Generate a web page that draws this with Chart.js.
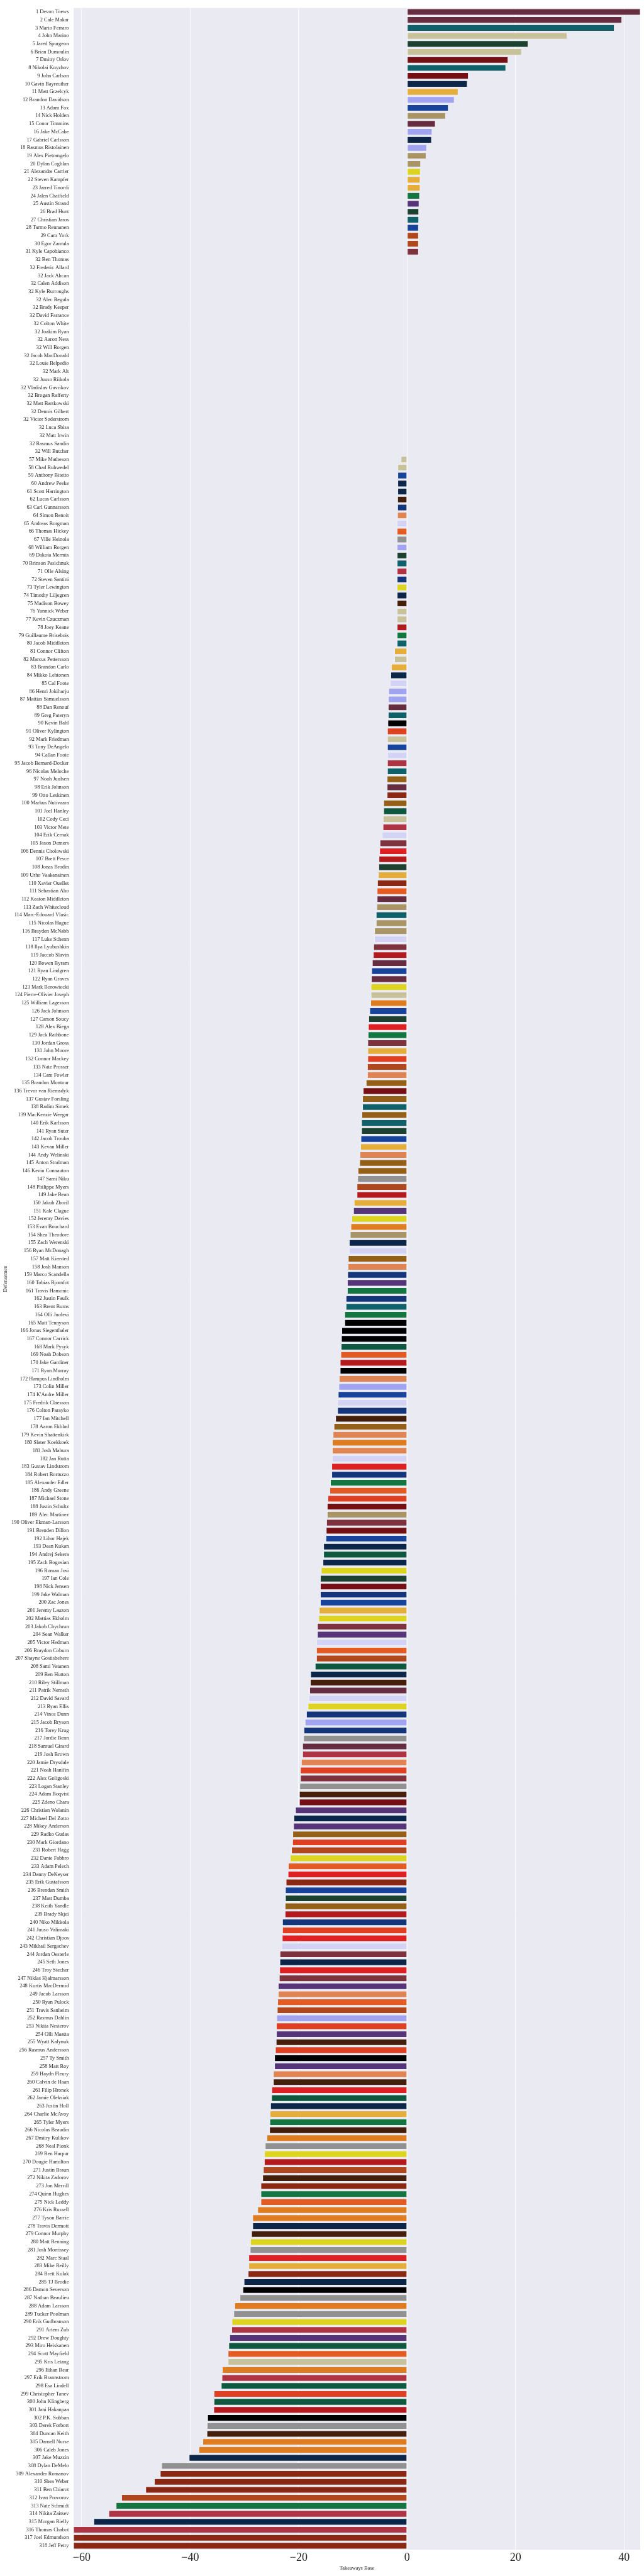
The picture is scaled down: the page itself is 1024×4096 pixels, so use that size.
<!DOCTYPE html>
<html>
<head>
<meta charset="utf-8">
<script src="https://cdn.jsdelivr.net/npm/chart.js@4.4.1/dist/chart.umd.min.js"></script>
<style>
  html, body { margin: 0; padding: 0; background: #ffffff; }
  #wrap { position: relative; width: 1024px; height: 4096px; }
</style>
</head>
<body>
<div id="wrap"><canvas id="chart"></canvas></div>
<script>
// team colours seen in the picture
const palette = {
  wine: '#662c3f', teal: '#0f6068', tan: '#c8c29b', forest: '#1c4131', darkRed: '#741013',
  navy: '#0b2649', gold: '#e5ae3a', lavender: '#a0a3f0', royal: '#17449a', khaki: '#a99465',
  yellow: '#dcd41f', green: '#137540', purple: '#563478', rust: '#b0461b', rose: '#7e323e',
  cobalt: '#14357a', salmon: '#e08454', paleLav: '#d3d3f5', orange: '#e35a22', gray: '#919191',
  roseRed: '#af3443', brown: '#44200c', red: '#b21a1e', redOrange: '#e04022', bronze: '#946017',
  rustBrown: '#8a2814', pine: '#0e5840', brightRed: '#df2022', amber: '#de7c1f', black: '#000000'
};

const players = [
  '1 Devon Toews', '2 Cale Makar', '3 Mario Ferraro', '4 John Marino', '5 Jared Spurgeon',
  '6 Brian Dumoulin', '7 Dmitry Orlov', '8 Nikolai Knyzhov', '9 John Carlson', '10 Gavin Bayreuther',
  '11 Matt Grzelcyk', '12 Brandon Davidson', '13 Adam Fox', '14 Nick Holden', '15 Conor Timmins',
  '16 Jake McCabe', '17 Gabriel Carlsson', '18 Rasmus Ristolainen', '19 Alex Pietrangelo', '20 Dylan Coghlan',
  '21 Alexandre Carrier', '22 Steven Kampfer', '23 Jarred Tinordi', '24 Jalen Chatfield', '25 Austin Strand',
  '26 Brad Hunt', '27 Christian Jaros', '28 Tarmo Reunanen', '29 Cam York', '30 Egor Zamula',
  '31 Kyle Capobianco', '32 Ben Thomas', '32 Frederic Allard', '32 Jack Ahcan', '32 Calen Addison',
  '32 Kyle Burroughs', '32 Alec Regula', '32 Brady Keeper', '32 David Farrance', '32 Colton White',
  '32 Joakim Ryan', '32 Aaron Ness', '32 Will Borgen', '32 Jacob MacDonald', '32 Louie Belpedio',
  '32 Mark Alt', '32 Juuso Riikola', '32 Vladislav Gavrikov', '32 Brogan Rafferty', '32 Matt Bartkowski',
  '32 Dennis Gilbert', '32 Victor Soderstrom', '32 Luca Sbisa', '32 Matt Irwin', '32 Rasmus Sandin',
  '32 Will Butcher', '57 Mike Matheson', '58 Chad Ruhwedel', '59 Anthony Bitetto', '60 Andrew Peeke',
  '61 Scott Harrington', '62 Lucas Carlsson', '63 Carl Gunnarsson', '64 Simon Benoit', '65 Andreas Borgman',
  '66 Thomas Hickey', '67 Ville Heinola', '68 William Borgen', '69 Dakota Mermis', '70 Brinson Pasichnuk',
  '71 Olle Alsing', '72 Steven Santini', '73 Tyler Lewington', '74 Timothy Liljegren', '75 Madison Bowey',
  '76 Yannick Weber', '77 Kevin Czuczman', '78 Joey Keane', '79 Guillaume Brisebois', '80 Jacob Middleton',
  '81 Connor Clifton', '82 Marcus Pettersson', '83 Brandon Carlo', '84 Mikko Lehtonen', '85 Cal Foote',
  '86 Henri Jokiharju', '87 Mattias Samuelsson', '88 Dan Renouf', '89 Greg Pateryn', '90 Kevin Bahl',
  '91 Oliver Kylington', '92 Mark Friedman', '93 Tony DeAngelo', '94 Callan Foote', '95 Jacob Bernard-Docker',
  '96 Nicolas Meloche', '97 Noah Juulsen', '98 Erik Johnson', '99 Otto Leskinen', '100 Markus Nutivaara',
  '101 Joel Hanley', '102 Cody Ceci', '103 Victor Mete', '104 Erik Cernak', '105 Jason Demers',
  '106 Dennis Cholowski', '107 Brett Pesce', '108 Jonas Brodin', '109 Urho Vaakanainen', '110 Xavier Ouellet',
  '111 Sebastian Aho', '112 Keaton Middleton', '113 Zach Whitecloud', '114 Marc-Edouard Vlasic', '115 Nicolas Hague',
  '116 Brayden McNabb', '117 Luke Schenn', '118 Ilya Lyubushkin', '119 Jaccob Slavin', '120 Bowen Byram',
  '121 Ryan Lindgren', '122 Ryan Graves', '123 Mark Borowiecki', '124 Pierre-Olivier Joseph', '125 William Lagesson',
  '126 Jack Johnson', '127 Carson Soucy', '128 Alex Biega', '129 Jack Rathbone', '130 Jordan Gross',
  '131 John Moore', '132 Connor Mackey', '133 Nate Prosser', '134 Cam Fowler', '135 Brandon Montour',
  '136 Trevor van Riemsdyk', '137 Gustav Forsling', '138 Radim Simek', '139 MacKenzie Weegar', '140 Erik Karlsson',
  '141 Ryan Suter', '142 Jacob Trouba', '143 Kevan Miller', '144 Andy Welinski', '145 Anton Stralman',
  '146 Kevin Connauton', '147 Sami Niku', '148 Philippe Myers', '149 Jake Bean', '150 Jakub Zboril',
  '151 Kale Clague', '152 Jeremy Davies', '153 Evan Bouchard', '154 Shea Theodore', '155 Zach Werenski',
  '156 Ryan McDonagh', '157 Matt Kiersted', '158 Josh Manson', '159 Marco Scandella', '160 Tobias Bjornfot',
  '161 Travis Hamonic', '162 Justin Faulk', '163 Brent Burns', '164 Olli Juolevi', '165 Matt Tennyson',
  '166 Jonas Siegenthaler', '167 Connor Carrick', '168 Mark Pysyk', '169 Noah Dobson', '170 Jake Gardiner',
  '171 Ryan Murray', '172 Hampus Lindholm', '173 Colin Miller', "174 K'Andre Miller", '175 Fredrik Claesson',
  '176 Colton Parayko', '177 Ian Mitchell', '178 Aaron Ekblad', '179 Kevin Shattenkirk', '180 Slater Koekkoek',
  '181 Josh Mahura', '182 Jan Rutta', '183 Gustav Lindstrom', '184 Robert Bortuzzo', '185 Alexander Edler',
  '186 Andy Greene', '187 Michael Stone', '188 Justin Schultz', '189 Alec Martinez', '190 Oliver Ekman-Larsson',
  '191 Brenden Dillon', '192 Libor Hajek', '193 Dean Kukan', '194 Andrej Sekera', '195 Zach Bogosian',
  '196 Roman Josi', '197 Ian Cole', '198 Nick Jensen', '199 Jake Walman', '200 Zac Jones',
  '201 Jeremy Lauzon', '202 Mattias Ekholm', '203 Jakob Chychrun', '204 Sean Walker', '205 Victor Hedman',
  '206 Braydon Coburn', '207 Shayne Gostisbehere', '208 Sami Vatanen', '209 Ben Hutton', '210 Riley Stillman',
  '211 Patrik Nemeth', '212 David Savard', '213 Ryan Ellis', '214 Vince Dunn', '215 Jacob Bryson',
  '216 Torey Krug', '217 Jordie Benn', '218 Samuel Girard', '219 Josh Brown', '220 Jamie Drysdale',
  '221 Noah Hanifin', '222 Alex Goligoski', '223 Logan Stanley', '224 Adam Boqvist', '225 Zdeno Chara',
  '226 Christian Wolanin', '227 Michael Del Zotto', '228 Mikey Anderson', '229 Radko Gudas', '230 Mark Giordano',
  '231 Robert Hagg', '232 Dante Fabbro', '233 Adam Pelech', '234 Danny DeKeyser', '235 Erik Gustafsson',
  '236 Brendan Smith', '237 Matt Dumba', '238 Keith Yandle', '239 Brady Skjei', '240 Niko Mikkola',
  '241 Juuso Valimaki', '242 Christian Djoos', '243 Mikhail Sergachev', '244 Jordan Oesterle', '245 Seth Jones',
  '246 Troy Stecher', '247 Niklas Hjalmarsson', '248 Kurtis MacDermid', '249 Jacob Larsson', '250 Ryan Pulock',
  '251 Travis Sanheim', '252 Rasmus Dahlin', '253 Nikita Nesterov', '254 Olli Maatta', '255 Wyatt Kalynuk',
  '256 Rasmus Andersson', '257 Ty Smith', '258 Matt Roy', '259 Haydn Fleury', '260 Calvin de Haan',
  '261 Filip Hronek', '262 Jamie Oleksiak', '263 Justin Holl', '264 Charlie McAvoy', '265 Tyler Myers',
  '266 Nicolas Beaudin', '267 Dmitry Kulikov', '268 Neal Pionk', '269 Ben Harpur', '270 Dougie Hamilton',
  '271 Justin Braun', '272 Nikita Zadorov', '273 Jon Merrill', '274 Quinn Hughes', '275 Nick Leddy',
  '276 Kris Russell', '277 Tyson Barrie', '278 Travis Dermott', '279 Connor Murphy', '280 Matt Benning',
  '281 Josh Morrissey', '282 Marc Staal', '283 Mike Reilly', '284 Brett Kulak', '285 TJ Brodie',
  '286 Damon Severson', '287 Nathan Beaulieu', '288 Adam Larsson', '289 Tucker Poolman', '290 Erik Gudbranson',
  '291 Artem Zub', '292 Drew Doughty', '293 Miro Heiskanen', '294 Scott Mayfield', '295 Kris Letang',
  '296 Ethan Bear', '297 Erik Brannstrom', '298 Esa Lindell', '299 Christopher Tanev', '300 John Klingberg',
  '301 Jani Hakanpaa', '302 P.K. Subban', '303 Derek Forbort', '304 Duncan Keith', '305 Darnell Nurse',
  '306 Caleb Jones', '307 Jake Muzzin', '308 Dylan DeMelo', '309 Alexander Romanov', '310 Shea Weber',
  '311 Ben Chiarot', '312 Ivan Provorov', '313 Nate Schmidt', '314 Nikita Zaitsev', '315 Morgan Rielly',
  '316 Thomas Chabot', '317 Joel Edmundson', '318 Jeff Petry'
];

const takeaways = [
  43.0, 39.6, 38.2, 29.5, 22.3, 21.1, 18.6, 18.2, 11.3, 11.1,
  9.4, 8.7, 7.6, 7.1, 5.2, 4.6, 4.5, 3.6, 3.5, 2.5,
  2.45, 2.4, 2.4, 2.3, 2.2, 2.15, 2.15, 2.1, 2.1, 2.1,
  2.1, 0, 0, 0, 0, 0, 0, 0, 0, 0,
  0, 0, 0, 0, 0, 0, 0, 0, 0, 0,
  0, 0, 0, 0, 0, 0, -1.10, -1.70, -1.70, -1.70,
  -1.70, -1.74, -1.74, -1.76, -1.82, -1.82, -1.82, -1.82, -1.82, -1.82,
  -1.82, -1.82, -1.82, -1.82, -1.82, -1.82, -1.82, -1.82, -1.82, -1.82,
  -2.29, -2.29, -2.89, -2.99, -3.07, -3.37, -3.43, -3.47, -3.47, -3.53,
  -3.61, -3.61, -3.61, -3.61, -3.61, -3.61, -3.67, -3.67, -3.67, -4.31,
  -4.31, -4.39, -4.43, -4.57, -4.99, -5.05, -5.17, -5.21, -5.27, -5.45,
  -5.51, -5.51, -5.57, -5.69, -5.69, -5.98, -6.00, -6.16, -6.22, -6.40,
  -6.52, -6.58, -6.64, -6.64, -6.70, -6.88, -7.06, -7.12, -7.18, -7.24,
  -7.24, -7.24, -7.30, -7.30, -7.54, -8.08, -8.20, -8.20, -8.32, -8.38,
  -8.38, -8.50, -8.56, -8.68, -8.74, -9.04, -9.10, -9.22, -9.22, -9.75,
  -9.87, -10.19, -10.35, -10.47, -10.65, -10.67, -10.83, -10.89, -10.95, -11.01,
  -11.01, -11.25, -11.25, -11.49, -11.49, -12.03, -12.09, -12.15, -12.21, -12.33,
  -12.33, -12.51, -12.57, -12.69, -12.81, -12.81, -13.17, -13.47, -13.64, -13.76,
  -13.76, -13.76, -13.88, -13.88, -14.12, -14.24, -14.60, -14.72, -14.72, -14.84,
  -14.90, -14.96, -15.38, -15.38, -15.50, -15.82, -15.98, -15.98, -15.98, -15.98,
  -16.18, -16.28, -16.52, -16.52, -16.66, -16.70, -16.70, -16.94, -17.77, -17.83,
  -17.95, -18.09, -18.25, -18.55, -18.80, -19.01, -19.07, -19.26, -19.26, -19.49,
  -19.65, -19.65, -19.78, -19.85, -19.85, -20.56, -20.86, -20.93, -21.07, -21.11,
  -21.30, -21.53, -21.89, -21.94, -22.30, -22.42, -22.42, -22.49, -22.49, -22.97,
  -22.97, -23.01, -23.11, -23.43, -23.45, -23.49, -23.56, -23.75, -23.75, -23.86,
  -23.93, -24.04, -24.09, -24.09, -24.14, -24.27, -24.43, -24.43, -24.64, -24.64,
  -24.94, -24.98, -25.17, -25.26, -25.30, -25.35, -25.85, -26.15, -26.28, -26.32,
  -26.49, -26.62, -26.95, -26.95, -26.95, -27.54, -28.46, -28.46, -28.67, -28.88,
  -28.93, -29.18, -29.18, -29.30, -30.06, -30.27, -30.81, -31.78, -31.95, -32.28,
  -32.33, -32.70, -32.87, -33.00, -33.00, -34.05, -34.13, -34.26, -35.60, -35.60,
  -35.64, -36.78, -36.86, -36.90, -37.66, -38.37, -40.18, -45.26, -45.51, -46.60,
  -48.19, -52.64, -53.65, -55.00, -57.77, -61.5, -61.5, -61.5
];

const teamColors = [
  'wine', 'wine', 'teal', 'tan', 'forest', 'tan', 'darkRed', 'teal', 'darkRed', 'navy',
  'gold', 'lavender', 'royal', 'khaki', 'wine', 'lavender', 'navy', 'lavender', 'khaki', 'khaki',
  'yellow', 'gold', 'gold', 'green', 'purple', 'forest', 'teal', 'royal', 'rust', 'rust',
  'rose', 'tan', 'tan', 'tan', 'tan', 'tan', 'tan', 'tan', 'tan', 'tan',
  'tan', 'tan', 'tan', 'tan', 'tan', 'tan', 'tan', 'tan', 'tan', 'tan',
  'tan', 'tan', 'tan', 'tan', 'tan', 'tan', 'tan', 'tan', 'royal', 'navy',
  'navy', 'brown', 'cobalt', 'salmon', 'paleLav', 'orange', 'gray', 'lavender', 'forest', 'teal',
  'roseRed', 'cobalt', 'yellow', 'navy', 'brown', 'tan', 'tan', 'red', 'green', 'teal',
  'gold', 'tan', 'gold', 'navy', 'paleLav', 'lavender', 'lavender', 'wine', 'teal', 'black',
  'redOrange', 'tan', 'royal', 'paleLav', 'roseRed', 'teal', 'bronze', 'wine', 'rustBrown', 'bronze',
  'pine', 'tan', 'roseRed', 'paleLav', 'rose', 'brightRed', 'red', 'forest', 'gold', 'rustBrown',
  'orange', 'wine', 'khaki', 'teal', 'khaki', 'khaki', 'paleLav', 'rose', 'red', 'wine',
  'royal', 'wine', 'yellow', 'tan', 'amber', 'royal', 'forest', 'brightRed', 'green', 'rose',
  'gold', 'redOrange', 'rust', 'salmon', 'bronze', 'darkRed', 'bronze', 'teal', 'bronze', 'teal',
  'forest', 'royal', 'gold', 'salmon', 'bronze', 'bronze', 'gray', 'rust', 'red', 'gold',
  'purple', 'yellow', 'amber', 'khaki', 'navy', 'paleLav', 'bronze', 'salmon', 'cobalt', 'purple',
  'green', 'cobalt', 'teal', 'green', 'black', 'black', 'black', 'pine', 'orange', 'red',
  'black', 'salmon', 'lavender', 'royal', 'paleLav', 'cobalt', 'brown', 'bronze', 'salmon', 'amber',
  'salmon', 'paleLav', 'brightRed', 'cobalt', 'green', 'orange', 'redOrange', 'darkRed', 'khaki', 'rose',
  'darkRed', 'royal', 'navy', 'pine', 'navy', 'yellow', 'forest', 'darkRed', 'cobalt', 'royal',
  'gold', 'yellow', 'rose', 'purple', 'paleLav', 'orange', 'rust', 'pine', 'navy', 'brown',
  'wine', 'paleLav', 'yellow', 'cobalt', 'lavender', 'cobalt', 'gray', 'wine', 'roseRed', 'salmon',
  'redOrange', 'rose', 'gray', 'brown', 'darkRed', 'purple', 'navy', 'purple', 'bronze', 'redOrange',
  'rust', 'yellow', 'orange', 'brightRed', 'rustBrown', 'royal', 'forest', 'bronze', 'red', 'cobalt',
  'redOrange', 'brightRed', 'paleLav', 'rose', 'navy', 'brightRed', 'rose', 'purple', 'salmon', 'orange',
  'rust', 'lavender', 'redOrange', 'purple', 'brown', 'redOrange', 'black', 'purple', 'salmon', 'brown',
  'brightRed', 'pine', 'navy', 'gold', 'green', 'brown', 'amber', 'gray', 'yellow', 'red',
  'rust', 'brown', 'rustBrown', 'green', 'orange', 'amber', 'amber', 'navy', 'brown', 'yellow',
  'gray', 'brightRed', 'gold', 'rustBrown', 'navy', 'black', 'gray', 'amber', 'gray', 'yellow',
  'roseRed', 'purple', 'pine', 'orange', 'tan', 'amber', 'roseRed', 'pine', 'redOrange', 'pine',
  'red', 'black', 'gray', 'brown', 'amber', 'amber', 'navy', 'gray', 'rustBrown', 'rustBrown',
  'rustBrown', 'rust', 'green', 'roseRed', 'navy', 'roseRed', 'rustBrown', 'rustBrown'
];

const xTicks = [-60, -40, -20, 0, 20, 40];
const xMin = -61.5;
const xMax = 43.0;

const textColor = '#262626';
Chart.defaults.font.family = "'Liberation Serif', 'DejaVu Serif', serif";
Chart.defaults.color = textColor;

// darkgrid face colour behind the grid
const plotBackground = {
  id: 'plotBackground',
  beforeDraw(chart) {
    const { ctx, chartArea } = chart;
    ctx.save();
    ctx.fillStyle = '#eaeaf2';
    ctx.fillRect(chartArea.left, chartArea.top, chartArea.right - chartArea.left, chartArea.bottom - chartArea.top);
    ctx.restore();
  }
};

const ctx = document.getElementById('chart').getContext('2d');
new Chart(ctx, {
  type: 'bar',
  data: {
    labels: players,
    datasets: [{
      data: takeaways,
      backgroundColor: teamColors.map((c) => palette[c]),
      borderColor: '#ffffff',
      borderWidth: 0.5,
      borderSkipped: false,
      barPercentage: 0.8,
      categoryPercentage: 1.0
    }]
  },
  options: {
    indexAxis: 'y',
    responsive: true,
    maintainAspectRatio: false,
    devicePixelRatio: 1,
    animation: false,
    layout: { padding: { top: 5, right: 6, left: 0, bottom: 0 } },
    plugins: {
      legend: { display: false },
      tooltip: { enabled: false }
    },
    scales: {
      x: {
        type: 'linear',
        min: xMin,
        max: xMax,
        afterBuildTicks(scale) {
          scale.ticks = xTicks.map((v) => ({ value: v }));
        },
        afterFit(scale) { scale.height = 41.7; },
        grid: { color: '#ffffff', lineWidth: 0.8, drawTicks: false },
        border: { display: false },
        ticks: {
          font: { size: 18 },
          color: textColor,
          padding: 2.6,
          maxRotation: 0,
          autoSkip: false,
          callback: (v) => (v < 0 ? '\u2212' + Math.abs(v) : String(v))
        },
        title: {
          display: true,
          text: 'Takeaways Base',
          color: textColor,
          font: { size: 8.4 },
          padding: { top: 0, bottom: 7.4 }
        }
      },
      y: {
        type: 'category',
        afterFit(scale) { scale.width = 117; },
        grid: { display: false, drawTicks: false },
        border: { display: false },
        ticks: {
          autoSkip: false,
          font: { size: 8.4 },
          color: textColor,
          padding: 7.6
        },
        title: {
          display: true,
          text: 'Defensemen',
          color: textColor,
          font: { size: 8.4 },
          padding: { top: 3.8, bottom: 0 }
        }
      }
    }
  },
  plugins: [plotBackground]
});
</script>
</body>
</html>
